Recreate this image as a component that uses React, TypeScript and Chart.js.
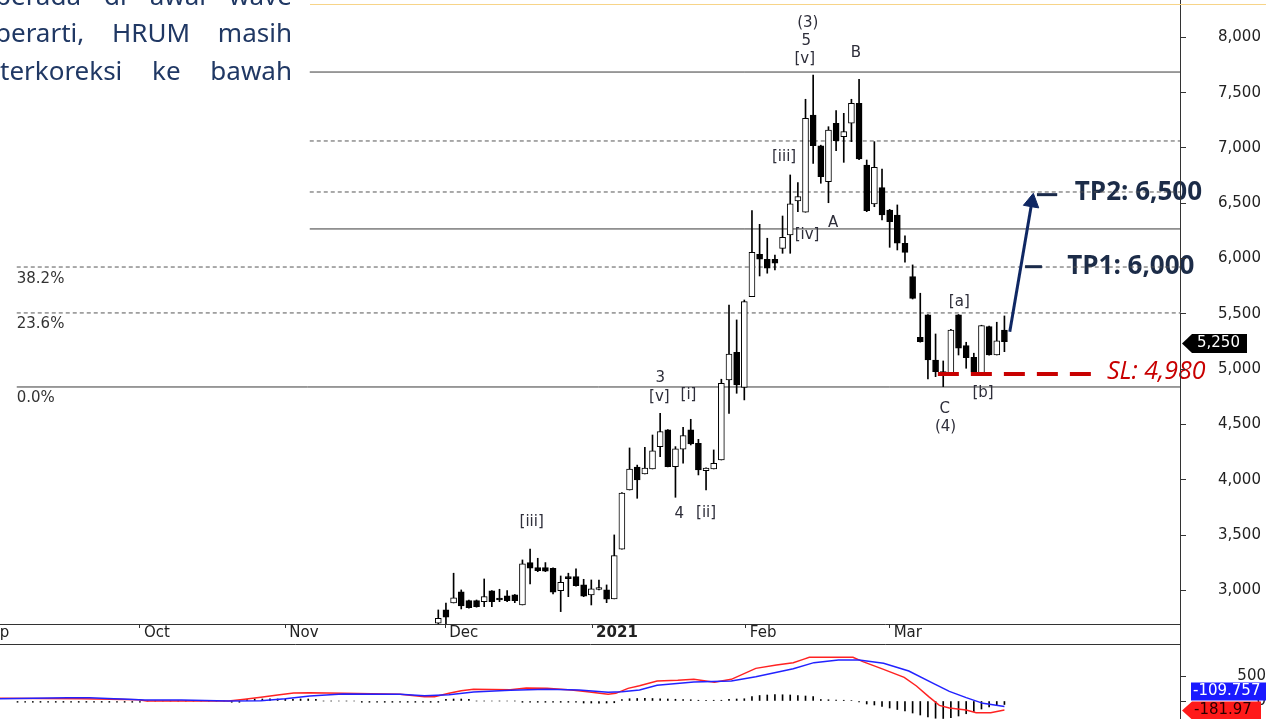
import React, { useEffect, useRef } from 'react';
import { Chart, registerables } from 'chart.js';

Chart.register(...registerables);

// ---------- price candles (x = trading-day index, 0 = 30 Nov 2020) ----------
const opens = [
  2705, 2825, 2888, 2988, 2909, 2909, 2900, 2997, 2920, 2952,
  2961, 2870, 3253, 3207, 3207, 3202, 3000, 3112, 3126, 3051,
  2961, 3010, 3006, 2925, 3374, 3909, 4115, 4054, 4099, 4301,
  4452, 4120, 4277, 4452, 4331, 4084, 4099, 4180, 4903, 5154,
  4837, 5656, 6039, 5994, 5994, 6093, 6214, 6521, 6419, 7298,
  7020, 6695, 7223, 7102, 7223, 7404, 6846, 6494, 6641, 6439,
  6394, 6139, 5837, 5289, 5491, 5084, 4978, 4949, 5491, 5213,
  5108, 4969, 5385, 5129, 5355,
];
const highs = [
  2825, 2886, 3157, 3006, 2915, 2915, 3105, 3000, 3012, 3000,
  2965, 3277, 3374, 3292, 3253, 3205, 3132, 3157, 3196, 3102,
  3096, 3096, 3051, 3503, 3885, 4289, 4134, 4295, 4406, 4602,
  4455, 4301, 4476, 4548, 4367, 4110, 4271, 4910, 5581, 5446,
  5626, 6433, 6310, 6184, 6033, 6385, 6756, 6686, 7440, 7659,
  7025, 7192, 7337, 7313, 7440, 7620, 6891, 7057, 6810, 6445,
  6485, 6205, 5943, 5687, 5495, 5319, 5075, 5360, 5495, 5244,
  5145, 5398, 5390, 5425, 5482,
];
const lows = [
  2700, 2662, 2888, 2834, 2840, 2850, 2855, 2855, 2900, 2900,
  2891, 2870, 3060, 3171, 3171, 2970, 2810, 2945, 3040, 2945,
  2870, 3006, 2891, 2925, 3374, 3909, 3834, 4054, 4099, 4210,
  4118, 3843, 4151, 4316, 4045, 3909, 4099, 4180, 4602, 4783,
  4723, 5656, 5843, 5868, 5897, 6048, 6048, 6424, 6419, 6861,
  6681, 6505, 6975, 6870, 7057, 6895, 6424, 6469, 6349, 6102,
  6078, 5967, 5635, 5245, 4912, 4933, 4843, 4945, 5129, 5009,
  4969, 4965, 5127, 5129, 5159,
];
const closes = [
  2750, 2759, 2934, 2861, 2846, 2855, 2945, 2900, 2915, 2909,
  2909, 3241, 3202, 3180, 3175, 2985, 3075, 3108, 3045, 2950,
  3015, 3015, 2922, 3316, 3880, 4099, 4000, 4106, 4262, 4436,
  4120, 4280, 4400, 4325, 4090, 4106, 4151, 4874, 5138, 4858,
  5611, 6057, 5994, 5913, 5958, 6193, 6494, 6560, 7268, 7020,
  6740, 7162, 7066, 7147, 7404, 6900, 6433, 6825, 6394, 6334,
  6139, 6057, 5640, 5250, 5084, 4978, 4949, 5355, 5190, 5105,
  4975, 5394, 5130, 5258, 5250,
];
const lastPrice = 5250;
const lastPriceLabel = '5,250';

// ---------- axes ----------
const xMin = -57.29;
const xMax = 96.95;
const priceMin = 2698;
const priceMax = 8337;
const priceTicks = [3000, 3500, 4000, 4500, 5000, 5500, 6000, 6500, 7000, 7500, 8000];
const monthTickPos = [-60.3, -39.0, -20.0, 0.9, 20.1, 40.2, 59.0];
const monthLabels = ['Sep', 'Oct', 'Nov', 'Dec', '2021', 'Feb', 'Mar'];

// ---------- retracement levels ----------
const levelValues = [7686, 7063, 6602, 6268, 5924, 5509, 4840];
const levelStart = [-16.8, -16.8, -16.8, -16.8, -55.1, -55.1, -55.1];
const levelDashed = [false, true, true, false, true, true, false];
const fibLabels = ['38.2%', '23.6%', '0.0%'];
const fibLabelLevels = [5924, 5509, 4840];
const fibLabelX = -55.1;

// ---------- wave labels ----------
const waveTexts = ['(3)', '5', '[v]', 'B', '[iii]', 'A', '[iv]', '3', '[v]', '[i]', '4', '[ii]', '[iii]', '[a]', '[b]', 'C', '(4)'];
const waveX = [48.3, 48.1, 47.9, 54.6, 45.2, 51.6, 48.2, 29.0, 28.9, 32.7, 31.5, 35.0, 12.2, 68.1, 71.2, 66.2, 66.3];
const waveY = [8127, 7969, 7801, 7855, 6916, 6325, 6214, 4921, 4752, 4768, 3692, 3699, 3623, 5611, 4783, 4639, 4481];

// ---------- trade plan ----------
const arrowX = [74.7, 77.58];
const arrowY = [5340, 6510];
const tp2DashX = [78.25, 80.9];
const tp2Level = 6578;
const tp1DashX = [76.7, 78.9];
const tp1Level = 5927;
const slDashX = [65.3, 85.8];
const slLevel = 4958;
const tpTexts = ['TP2: 6,500', 'TP1: 6,000'];
const tpTextX = [83.2, 82.2];
const tpTextY = [6593, 5924];
const slText = 'SL: 4,980';
const slTextX = 87.4;
const slTextY = 4976;

// ---------- MACD panel ----------
const macdX = [-57.3, -46.6, -39.2, -38.1, -27.4, -25.3, -23.2, -21.0, -18.9, -16.8, -12.5, -5.0, -1.8, -0.5, 1.4, 3.0, 4.6, 9.4, 11.5, 14.2, 17.4, 19.5, 22.2, 23.2, 24.8, 26.3, 28.6, 31.3, 33.4, 36.1, 38.3, 41.5, 44.2, 46.4, 47.7, 48.5, 54.2, 55.5, 58.2, 60.9, 62.5, 64.1, 65.5, 66.8, 69.0, 70.3, 72.2, 74];
const macdY = [53, 47, 27, 0, 0, 33, 73, 120, 160, 167, 153, 133, 87, 87, 153, 207, 233, 227, 260, 253, 220, 187, 133, 153, 253, 307, 400, 413, 433, 373, 433, 653, 720, 767, 833, 873, 873, 787, 633, 473, 300, 87, -87, -140, -180, -233, -233, -182];
const signalX = [-57.3, -48.5, -45.6, -42.4, -41.3, -38.4, -33.6, -27.4, -23.2, -20.0, -16.8, -12.5, -5.0, -1.8, 1.4, 4.6, 9.4, 14.2, 18.4, 22.2, 24.0, 26.3, 28.6, 33.4, 38.3, 41.5, 46.4, 49.1, 52.3, 55.0, 58.2, 61.5, 64.7, 66.8, 69.0, 71.2, 74];
const signalY = [47, 67, 67, 47, 40, 20, 20, 0, 7, 47, 100, 140, 133, 107, 127, 180, 213, 233, 220, 173, 187, 220, 313, 380, 400, 487, 647, 767, 820, 820, 753, 600, 353, 193, 67, -47, -110];
const histStart = -55;
const histValues = [
  -25, -25, -25, -25, -25, -25, -25, -25, -25, -25, -25, -25, -25, -25, -25, -25, -25,
  0, 0, 0, 0, 0, 0, 0, 0, 0, 0, 0,
  -25, -25,
  30, 40, 40, 45, 40, 40, 35, 40, 40, 35,
  0, 0, 0, 0, 0,
  -25, -25, -25, -25, -25, -25, -25, -25, -25, -25, -25,
  35, 40, 40, 35,
  0, 0, 0, 0, 0, 0,
  -25, -25, -25, -25, -25, -25, -25, -25,
  -40, -40, -45, -40, -35,
  30, 45, 50, 55, 50, 45, 40, 35, 30, 25,
  15, 15, 15, 15,
  35, 40, 45,
  90, 110, 120, 130, 125, 120, 110, 100, 90,
  30, 25, 20, 15, 10,
  -20,
  -60, -80, -110, -140, -170, -200, -240, -280, -320, -345, -350, -335, -300, -255, -210, -160, -120, -90, -70,
];
const macdTickValues = [0, 500];
const macdLastLabel = '-181.97';
const macdLastValue = -181.97;
const signalLastLabel = '-109.757';

// ---------- paragraph text ----------
const textLines = ['berada di awal wave', 'berarti, HRUM masih', 'terkoreksi ke bawah'];
const textBaselines = [5, 42, 80.5];
const textLefts = [-5, -5, 0];
const textSize = 26;

const FONT = '"DejaVu Sans", sans-serif';
const NAVY = '#0f2763';
const AXIS = '#333333';
const RED = '#c80000';

export default function App() {
  const mainRef = useRef<HTMLCanvasElement>(null);
  const macdRef = useRef<HTMLCanvasElement>(null);

  useEffect(() => {
    Chart.defaults.font.family = FONT;

    const bodyData = opens.map((o, i) => ({ x: i, y: [o, closes[i]] }));
    const wickData = opens.map((_, i) => ({ x: i, y: [lows[i], highs[i]] }));
    const bodyColors = opens.map((o, i) => (closes[i] >= o ? '#ffffff' : '#000000'));

    const datasets: any[] = [];
    datasets.push({
      type: 'line', data: arrowX.map((x, i) => ({ x, y: arrowY[i] })),
      borderColor: NAVY, backgroundColor: NAVY, borderWidth: 3,
      pointRadius: [0, 9], pointStyle: 'triangle', pointRotation: 9.6,
      pointBackgroundColor: NAVY, pointBorderColor: NAVY, pointBorderWidth: 1, order: 0,
    });
    datasets.push({
      type: 'line', data: tp2DashX.map((x) => ({ x, y: tp2Level })),
      borderColor: '#1a2a4a', borderWidth: 3, pointRadius: 0, order: 0,
    });
    datasets.push({
      type: 'line', data: tp1DashX.map((x) => ({ x, y: tp1Level })),
      borderColor: '#1a2a4a', borderWidth: 3, pointRadius: 0, order: 0,
    });
    datasets.push({
      type: 'line', data: slDashX.map((x) => ({ x, y: slLevel })),
      borderColor: RED, borderWidth: 4, borderDash: [21, 12], pointRadius: 0, order: 0,
    });
    datasets.push({
      type: 'bar', data: bodyData, backgroundColor: bodyColors, borderColor: '#000000',
      borderWidth: 1, borderSkipped: false, barThickness: 6, grouped: false, minBarLength: 2, order: 1,
    });
    datasets.push({
      type: 'bar', data: wickData, backgroundColor: '#000000', borderWidth: 0,
      barThickness: 1, grouped: false, order: 2,
    });
    levelValues.forEach((v, k) => {
      datasets.push({
        type: 'line', data: [{ x: levelStart[k], y: v }, { x: xMax, y: v }],
        borderColor: levelDashed[k] ? '#555555' : '#3a3a3a', borderWidth: 1,
        borderDash: levelDashed[k] ? [4, 3] : [], pointRadius: 0, order: 3,
      });
    });

    const mainOverlay = {
      id: 'mainOverlay',
      beforeDraw(chart: any) {
        const { ctx, scales } = chart;
        const x = scales.x, y = scales.y;
        ctx.save();
        ctx.textBaseline = 'middle';
        ctx.textAlign = 'left';
        ctx.font = 'bold 26px "Open Sans", sans-serif';
        ctx.fillStyle = '#1c2c48';
        tpTexts.forEach((t, i) => ctx.fillText(t, x.getPixelForValue(tpTextX[i]), y.getPixelForValue(tpTextY[i])));
        ctx.font = 'italic 25px "Open Sans", sans-serif';
        ctx.fillStyle = RED;
        ctx.fillText(slText, x.getPixelForValue(slTextX), y.getPixelForValue(slTextY));
        ctx.restore();
      },
      afterDatasetsDraw(chart: any) {
        const { ctx, scales } = chart;
        const x = scales.x, y = scales.y;
        ctx.save();
        ctx.font = `15px ${FONT}`;
        ctx.fillStyle = '#333333';
        ctx.textAlign = 'left';
        ctx.textBaseline = 'alphabetic';
        fibLabels.forEach((t, i) => ctx.fillText(t, x.getPixelForValue(fibLabelX), y.getPixelForValue(fibLabelLevels[i]) + 15.5));
        ctx.textAlign = 'center';
        ctx.textBaseline = 'middle';
        ctx.fillStyle = '#2e2e3a';
        waveTexts.forEach((t, i) => ctx.fillText(t, x.getPixelForValue(waveX[i]), y.getPixelForValue(waveY[i])));
        ctx.restore();
      },
      afterDraw(chart: any) {
        const { ctx, chartArea, scales } = chart;
        const y = scales.y;
        ctx.save();
        ctx.strokeStyle = AXIS;
        ctx.lineWidth = 1;
        ctx.beginPath();
        ctx.moveTo(chartArea.right + 0.5, chartArea.bottom);
        ctx.lineTo(chartArea.right + 0.5, chart.height);
        ctx.stroke();
        const py = Math.round(y.getPixelForValue(lastPrice)) + 1.5;
        const tip = chartArea.right + 2;
        ctx.fillStyle = '#000000';
        ctx.beginPath();
        ctx.moveTo(tip, py);
        ctx.lineTo(tip + 10, py - 9.5);
        ctx.lineTo(tip + 65, py - 9.5);
        ctx.lineTo(tip + 65, py + 9.5);
        ctx.lineTo(tip + 10, py + 9.5);
        ctx.closePath();
        ctx.fill();
        ctx.fillStyle = '#ffffff';
        ctx.font = `15px ${FONT}`;
        ctx.textAlign = 'left';
        ctx.textBaseline = 'middle';
        ctx.fillText(lastPriceLabel, tip + 15, py);
        ctx.restore();
      },
    };

    const main = new Chart(mainRef.current as HTMLCanvasElement, {
      type: 'bar',
      data: { datasets },
      options: {
        responsive: false,
        animation: false,
        events: [],
        layout: { padding: 0, autoPadding: false },
        plugins: { legend: { display: false }, tooltip: { enabled: false } },
        scales: {
          x: {
            type: 'linear', min: xMin, max: xMax, offset: false, bounds: 'data',
            afterBuildTicks: (s: any) => { s.ticks = monthTickPos.map((v) => ({ value: v })); },
            afterFit: (s: any) => { s.height = 20; s.paddingLeft = 0; s.paddingRight = 0; },
            grid: { display: true, drawOnChartArea: false, drawTicks: true, tickLength: 4, color: AXIS, offset: false },
            border: { display: true, color: AXIS, width: 1 },
            ticks: {
              autoSkip: false, maxRotation: 0, minRotation: 0, align: 'start', labelOffset: 4, padding: -2,
              color: '#222222',
              font: (c: any) => ({ family: FONT, size: 15, lineHeight: 1, weight: c.tick && c.tick.label === '2021' ? 'bold' : 'normal' }),
              callback: (_v: any, i: number) => monthLabels[i],
            },
          },
          y: {
            type: 'linear', position: 'right', min: priceMin, max: priceMax, bounds: 'data',
            afterBuildTicks: (s: any) => { s.ticks = priceTicks.map((v) => ({ value: v })); },
            afterFit: (s: any) => { s.width = 86; s.paddingTop = 0; s.paddingBottom = 0; },
            grid: { display: true, drawOnChartArea: false, drawTicks: true, tickLength: 6, color: AXIS },
            border: { display: true, color: AXIS, width: 1 },
            ticks: {
              crossAlign: 'near', padding: 32, color: '#222222',
              font: { family: FONT, size: 15 },
              callback: (v: any) => Number(v).toLocaleString('en-US'),
            },
          },
        },
      } as any,
      plugins: [mainOverlay],
    });

    const measure = document.createElement('canvas').getContext('2d') as CanvasRenderingContext2D;
    measure.font = `15px ${FONT}`;
    const w500 = measure.measureText('500').width;
    const macdTickPad = 1261 - 1186 - w500;

    const macdOverlay = {
      id: 'macdOverlay',
      afterDraw(chart: any) {
        const { ctx, chartArea, scales } = chart;
        const y = scales.y;
        const right = chartArea.right;
        ctx.save();
        const cy = Math.round(y.getPixelForValue(macdLastValue)) + 0.5;
        ctx.fillStyle = '#ff1a1a';
        ctx.beginPath();
        ctx.moveTo(right + 2, cy);
        ctx.lineTo(right + 12, cy - 9);
        ctx.lineTo(right + 81, cy - 9);
        ctx.lineTo(right + 81, cy + 9);
        ctx.lineTo(right + 12, cy + 9);
        ctx.closePath();
        ctx.fill();
        const by = cy - 19;
        ctx.fillStyle = '#1a1aff';
        ctx.fillRect(right + 11, by - 9, 90, 18);
        ctx.font = `15px ${FONT}`;
        ctx.textAlign = 'left';
        ctx.textBaseline = 'middle';
        ctx.fillStyle = '#ffffff';
        ctx.fillText(signalLastLabel, right + 13, by);
        ctx.fillStyle = '#2a0000';
        ctx.fillText(macdLastLabel, right + 14, cy);
        ctx.restore();
      },
    };

    const macd = new Chart(macdRef.current as HTMLCanvasElement, {
      type: 'bar',
      data: {
        datasets: [
          {
            type: 'line', data: signalX.map((x, i) => ({ x, y: signalY[i] })),
            borderColor: '#2222ff', borderWidth: 1.5, pointRadius: 0, tension: 0, order: 0,
          },
          {
            type: 'line', data: macdX.map((x, i) => ({ x, y: macdY[i] })),
            borderColor: '#ff2222', borderWidth: 1.5, pointRadius: 0, tension: 0, order: 1,
          },
          {
            type: 'bar', data: histValues.map((v, k) => ({ x: histStart + k, y: v })),
            backgroundColor: '#000000', borderWidth: 0, barThickness: 1, grouped: false, order: 2,
          },
        ] as any,
      },
      options: {
        responsive: false,
        animation: false,
        events: [],
        layout: { padding: { top: 1, left: 0, right: 0, bottom: 0 }, autoPadding: false },
        plugins: { legend: { display: false }, tooltip: { enabled: false } },
        scales: {
          x: {
            type: 'linear', position: 'top', min: xMin, max: xMax, offset: false, bounds: 'data',
            afterFit: (s: any) => { s.height = 0; s.paddingLeft = 0; s.paddingRight = 0; },
            grid: { display: true, drawOnChartArea: false, drawTicks: false },
            border: { display: true, color: AXIS, width: 1 },
            ticks: { display: false },
          },
          y: {
            type: 'linear', position: 'right', min: -860, max: 1140, bounds: 'data',
            afterBuildTicks: (s: any) => { s.ticks = macdTickValues.map((v) => ({ value: v })); },
            afterFit: (s: any) => { s.width = 86; s.paddingTop = 0; s.paddingBottom = 0; },
            grid: { display: true, drawOnChartArea: false, drawTicks: true, tickLength: 6, color: AXIS },
            border: { display: true, color: AXIS, width: 1 },
            ticks: {
              crossAlign: 'far', padding: macdTickPad, color: '#222222',
              font: { family: FONT, size: 15 },
              callback: (v: any) => String(v),
            },
          },
        },
      } as any,
      plugins: [macdOverlay],
    });

    return () => {
      main.destroy();
      macd.destroy();
    };
  }, []);

  return (
    <div style={{ position: 'fixed', left: 0, top: 0, width: 1266, height: 719, overflow: 'hidden', background: '#ffffff' }}>
      <canvas ref={mainRef} width={1266} height={644} style={{ position: 'absolute', left: 0, top: 0, width: 1266, height: 644 }} />
      <canvas ref={macdRef} width={1266} height={101} style={{ position: 'absolute', left: 0, top: 643, width: 1266, height: 101 }} />
      <div style={{ position: 'absolute', left: 310, top: 4, width: 956, height: 1, background: '#f7d488' }} />
      {textLines.map((t, i) => (
        <div
          key={i}
          style={{
            position: 'absolute',
            left: textLefts[i],
            top: textBaselines[i] - textSize * 0.888,
            width: 292 - textLefts[i],
            height: textSize,
            lineHeight: `${textSize}px`,
            fontFamily: '"Noto Sans", sans-serif',
            fontSize: textSize,
            color: '#203864',
            textAlign: 'justify',
            textAlignLast: 'justify',
            whiteSpace: 'nowrap',
          } as any}
        >
          {t}
        </div>
      ))}
    </div>
  );
}
